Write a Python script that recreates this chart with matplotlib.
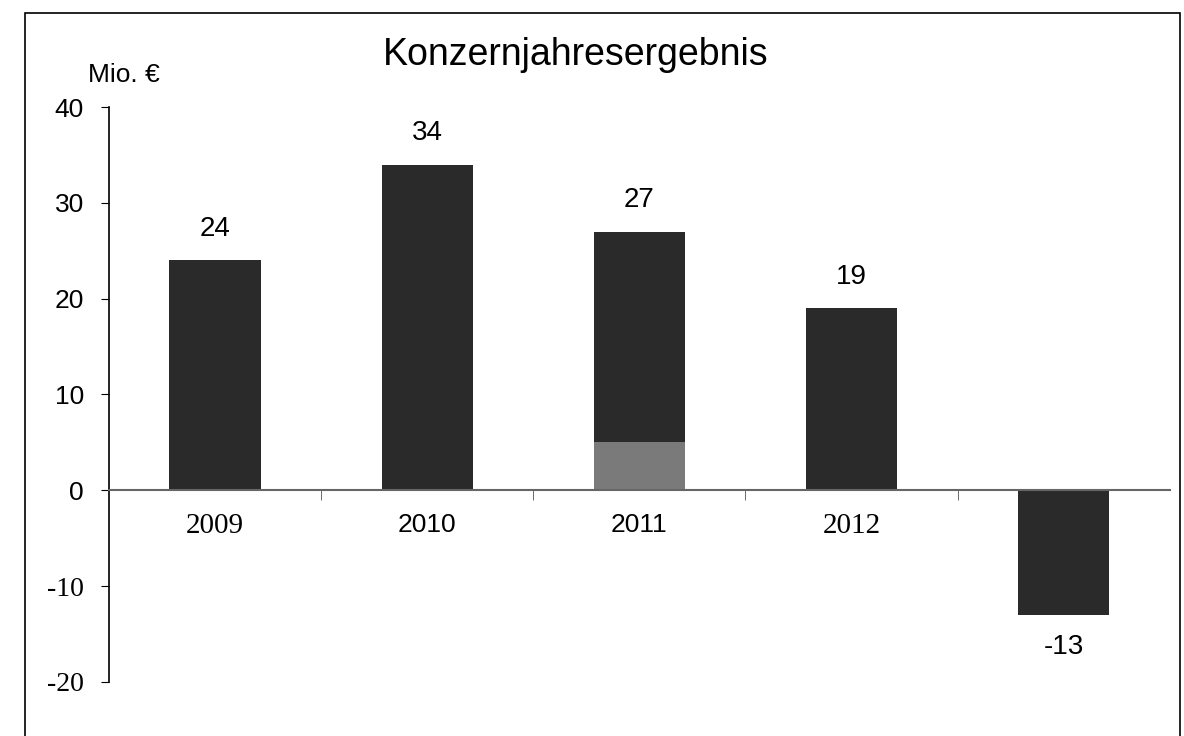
import numpy as np
import matplotlib.pyplot as plt
from matplotlib.patches import Rectangle

# Konzernjahresergebnis in Mio. EUR
years = ['2009', '2010', '2011', '2012', '']
results = [24, 34, 27, 19, -13]
# 2011: lower part shown in a lighter shade
lower_part = [0, 0, 5, 0, 0]
year_fonts = ['Liberation Serif', 'Liberation Sans', 'Liberation Sans', 'Liberation Serif', 'Liberation Sans']

plt.rcParams['font.family'] = ['Liberation Sans', 'DejaVu Sans']

fig = plt.figure(figsize=(11.84, 7.36), dpi=100)
ax = fig.add_axes([0.092, 0.0734, 0.896, 0.7812])

# spines first: moving a spine resets the ticks
for s in ['top', 'right']:
    ax.spines[s].set_visible(False)
ax.spines['bottom'].set_position(('data', 0))
ax.spines['bottom'].set_color('#666666')
ax.spines['bottom'].set_linewidth(1.5)
ax.spines['left'].set_linewidth(1.2)

x = np.arange(len(years))
upper_part = [r - l for r, l in zip(results, lower_part)]
ax.bar(x, lower_part, width=0.43, color='#7a7a7a', zorder=2)
ax.bar(x, upper_part, bottom=lower_part, width=0.43, color='#2a2a2a', zorder=2)

for xi, v in zip(x, results):
    if v >= 0:
        ax.text(xi, v + 1.9, str(v), ha='center', va='bottom', fontsize=20)
    else:
        ax.text(xi, v - 2.0, str(v), ha='center', va='top', fontsize=20)

ax.set_xlim(-0.5, len(years) - 0.5)
ax.set_ylim(-20, 40)
ax.set_yticks([-20, -10, 0, 10, 20, 30, 40])
ax.set_yticklabels(['-20', '-10', '0', '10', '20', '30', '40'])
ax.tick_params(axis='y', length=6, direction='out', pad=12, labelsize=19)

ax.set_xticks(x)
ax.set_xticklabels(years)
ax.set_xticks(np.arange(0.5, len(years) - 0.5, 1), minor=True)
ax.tick_params(axis='x', which='major', length=0, pad=16, labelsize=19)
ax.tick_params(axis='x', which='minor', length=7, direction='out', color='#555555')

for lbl in ax.get_yticklabels():
    if lbl.get_text().startswith('-'):
        lbl.set_fontfamily('Liberation Serif')
        lbl.set_fontsize(20)
for lbl, fam in zip(ax.get_xticklabels(), year_fonts):
    lbl.set_fontfamily(fam)
    if fam == 'Liberation Serif':
        lbl.set_fontsize(21)

fig.text(0.486, 0.925, 'Konzernjahresergebnis', ha='center', va='center', fontsize=27)
fig.text(0.074, 0.898, 'Mio. €', ha='left', va='center', fontsize=19)

# outer frame of the scanned chart
fig.patches.append(Rectangle((0.021, -0.01), 0.976, 0.992, transform=fig.transFigure,
                             fill=False, edgecolor='black', linewidth=1.2))

fig.savefig('out.png', dpi=100)
